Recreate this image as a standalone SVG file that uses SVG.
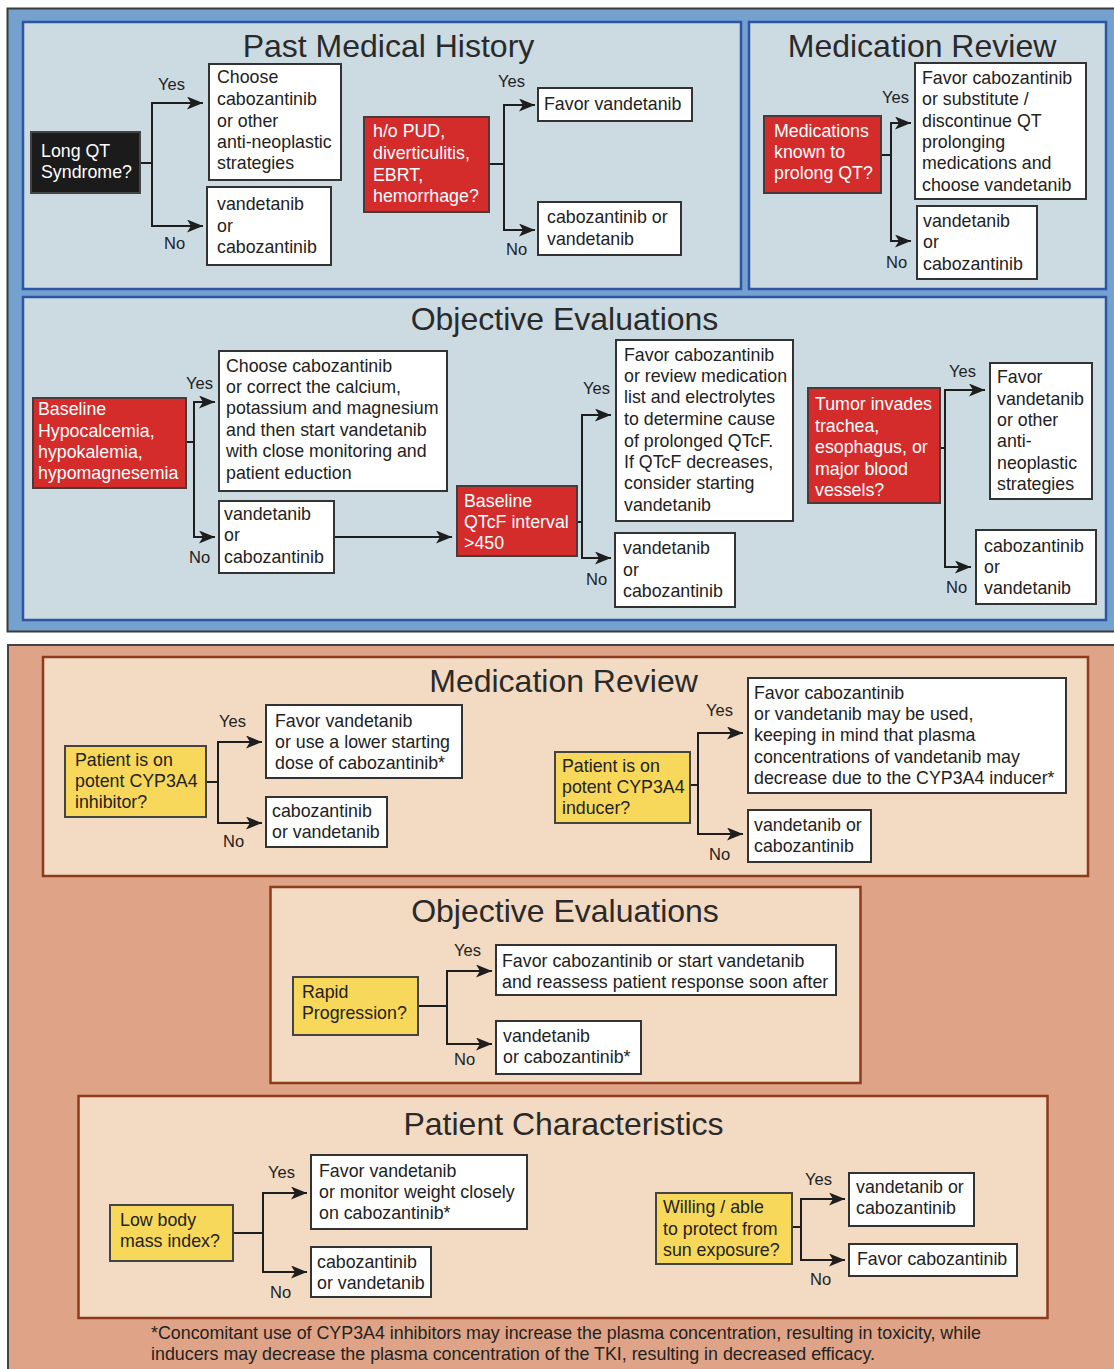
<svg xmlns="http://www.w3.org/2000/svg" width="1114" height="1369" viewBox="0 0 1114 1369">
<defs>
<marker id="arr" markerUnits="userSpaceOnUse" markerWidth="17" markerHeight="14" refX="16" refY="6.5" orient="auto">
<path d="M0,0 L16,6.5 L0,13 L4,6.5 Z" fill="#1e1e1e"/>
</marker>
</defs>
<style>
text{font-family:"Liberation Sans",Arial,Helvetica,sans-serif;fill:#222}
.t{font-size:17.8px}
.w{fill:#fff}
.lbl{font-size:16.5px}
.title{font-size:32px;text-anchor:middle;fill:#2a2a2a}
.box{fill:#fff;stroke:#333;stroke-width:2}
.red{fill:#d42b2b;stroke:#4a3a3a;stroke-width:2}
.blk{fill:#1b1b1b;stroke:#444;stroke-width:2}
.yel{fill:#f8d85a;stroke:#444;stroke-width:2}
.pb{fill:#ccdae2;stroke:#2c55a3;stroke-width:2.5}
.po{fill:#f2dac3;stroke:#8e3b1d;stroke-width:2.5}
.con path{fill:none;stroke:#1e1e1e;stroke-width:2;marker-end:url(#arr)}
.con path.plain{marker-end:none}
</style>
<rect x="0" y="0" width="1114" height="1369" fill="#fff"/>
<!-- outer panels -->
<rect id="outer-blue" x="7.5" y="8.5" width="1112" height="623" fill="#75a1cf" stroke="#3a3a3a" stroke-width="2"/>
<rect id="outer-orange" x="8" y="645" width="1112" height="730" fill="#dfa487" stroke="#444" stroke-width="2"/>

<!-- inner panels -->
<g id="panel-pmh"><rect class="pb" x="23" y="22" width="718" height="267"/><text class="title" x="388.5" y="57">Past Medical History</text></g>
<g id="panel-mr-top"><rect class="pb" x="749" y="22" width="357" height="267"/><text class="title" x="922" y="57">Medication Review</text></g>
<g id="panel-oe-top"><rect class="pb" x="23" y="297" width="1083" height="323"/><text class="title" x="564.5" y="330">Objective Evaluations</text></g>
<g id="panel-mr-bottom"><rect class="po" x="43" y="657" width="1045" height="219"/><text class="title" x="563.5" y="692">Medication Review</text></g>
<g id="panel-oe-bottom"><rect class="po" x="270.5" y="887" width="590" height="196"/><text class="title" x="565" y="922">Objective Evaluations</text></g>
<g id="panel-pc"><rect class="po" x="78.5" y="1096" width="969" height="222"/><text class="title" x="563.5" y="1135">Patient Characteristics</text></g>

<!-- connectors -->
<g id="connectors" class="con">
<path d="M140,163 H152 V103 H203"/>
<path d="M140,163 H152 V226 H203"/>
<path d="M489,164 H504 V105 H535"/>
<path d="M489,164 H504 V230 H535"/>
<path d="M881,155 H891 V123 H911"/>
<path d="M881,155 H891 V241 H911"/>
<path d="M186,442 H194 V402 H215"/>
<path d="M186,442 H194 V537 H215"/>
<path d="M334,537 H452"/>
<path d="M577,522 H582 V415 H611"/>
<path d="M577,522 H582 V558 H611"/>
<path d="M940,448 H945 V390 H985"/>
<path d="M940,448 H945 V567 H971"/>
<path d="M206,782 H218 V742 H262"/>
<path d="M206,782 H218 V823 H262"/>
<path d="M690,785 H698 V733 H743"/>
<path d="M690,785 H698 V834 H743"/>
<path d="M418,1006 H447 V971 H492"/>
<path d="M418,1006 H447 V1044 H492"/>
<path d="M233,1233 H263 V1193 H307"/>
<path d="M233,1233 H263 V1272 H307"/>
<path d="M792,1227 H801 V1199 H845"/>
<path d="M792,1227 H801 V1260 H845"/>
</g>

<!-- Yes/No labels -->
<g id="labels" class="lbl">
<text class="lbl" x="158" y="90">Yes</text><text class="lbl" x="164" y="249">No</text>
<text class="lbl" x="498" y="87">Yes</text><text class="lbl" x="506" y="255">No</text>
<text class="lbl" x="882" y="103">Yes</text><text class="lbl" x="886" y="268">No</text>
<text class="lbl" x="186" y="389">Yes</text><text class="lbl" x="189" y="563">No</text>
<text class="lbl" x="583" y="394">Yes</text><text class="lbl" x="586" y="585">No</text>
<text class="lbl" x="949" y="377">Yes</text><text class="lbl" x="946" y="593">No</text>
<text class="lbl" x="219" y="727">Yes</text><text class="lbl" x="223" y="847">No</text>
<text class="lbl" x="706" y="716">Yes</text><text class="lbl" x="709" y="860">No</text>
<text class="lbl" x="454" y="956">Yes</text><text class="lbl" x="454" y="1065">No</text>
<text class="lbl" x="268" y="1178">Yes</text><text class="lbl" x="270" y="1298">No</text>
<text class="lbl" x="805" y="1185">Yes</text><text class="lbl" x="810" y="1285">No</text>
</g>

<!-- Past Medical History nodes -->
<g id="n-longqt"><rect class="blk" x="31" y="132" width="109" height="61"/>
<text class="t w" x="41" y="157">Long QT</text><text class="t w" x="41" y="178">Syndrome?</text></g>
<g id="n-choose-cabo"><rect class="box" x="209" y="64" width="132" height="116"/>
<text class="t" x="217" y="83">Choose</text><text class="t" x="217" y="105">cabozantinib</text><text class="t" x="217" y="127">or other</text><text class="t" x="217" y="148">anti-neoplastic</text><text class="t" x="217" y="169">strategies</text></g>
<g id="n-vand-cabo-1"><rect class="box" x="207" y="187" width="124" height="78"/>
<text class="t" x="217" y="210">vandetanib</text><text class="t" x="217" y="232">or</text><text class="t" x="217" y="253">cabozantinib</text></g>
<g id="n-pud"><rect class="red" x="364" y="117" width="125" height="95"/>
<text class="t w" x="373" y="137">h/o PUD,</text><text class="t w" x="373" y="159">diverticulitis,</text><text class="t w" x="373" y="181">EBRT,</text><text class="t w" x="373" y="202">hemorrhage?</text></g>
<g id="n-favor-vand-1"><rect class="box" x="538" y="88" width="154" height="33"/>
<text class="t" x="544" y="110">Favor vandetanib</text></g>
<g id="n-cabo-vand-1"><rect class="box" x="538" y="202" width="143" height="53"/>
<text class="t" x="547" y="223">cabozantinib or</text><text class="t" x="547" y="245">vandetanib</text></g>

<!-- Medication Review (top) -->
<g id="n-medqt"><rect class="red" x="764" y="116" width="117" height="77"/>
<text class="t w" x="774" y="137">Medications</text><text class="t w" x="774" y="158">known to</text><text class="t w" x="774" y="179">prolong QT?</text></g>
<g id="n-favor-cabo-subst"><rect class="box" x="915" y="63" width="171" height="136"/>
<text class="t" x="922" y="84">Favor cabozantinib</text><text class="t" x="922" y="105">or substitute /</text><text class="t" x="922" y="127">discontinue QT</text><text class="t" x="922" y="148">prolonging</text><text class="t" x="922" y="169">medications and</text><text class="t" x="922" y="191">choose vandetanib</text></g>
<g id="n-vand-cabo-2"><rect class="box" x="917" y="206" width="120" height="73"/>
<text class="t" x="923" y="227">vandetanib</text><text class="t" x="923" y="248">or</text><text class="t" x="923" y="270">cabozantinib</text></g>

<!-- Objective Evaluations (top) -->
<g id="n-hypo"><rect class="red" x="33" y="398" width="153" height="90"/>
<text class="t w" x="38" y="415">Baseline</text><text class="t w" x="38" y="437">Hypocalcemia,</text><text class="t w" x="38" y="458">hypokalemia,</text><text class="t w" x="38" y="479">hypomagnesemia</text></g>
<g id="n-choose-correct"><rect class="box" x="219" y="351" width="228" height="140"/>
<text class="t" x="226" y="372">Choose cabozantinib</text><text class="t" x="226" y="393">or correct the calcium,</text><text class="t" x="226" y="414">potassium and magnesium</text><text class="t" x="226" y="436">and then start vandetanib</text><text class="t" x="226" y="457">with close monitoring and</text><text class="t" x="226" y="479">patient eduction</text></g>
<g id="n-vand-cabo-3"><rect class="box" x="219" y="501" width="115" height="72"/>
<text class="t" x="224" y="520">vandetanib</text><text class="t" x="224" y="541">or</text><text class="t" x="224" y="563">cabozantinib</text></g>
<g id="n-qtcf"><rect class="red" x="457" y="486" width="120" height="70"/>
<text class="t w" x="464" y="507">Baseline</text><text class="t w" x="464" y="528">QTcF interval</text><text class="t w" x="464" y="549">&gt;450</text></g>
<g id="n-favor-cabo-review"><rect class="box" x="616" y="340" width="177" height="181"/>
<text class="t" x="624" y="361">Favor cabozantinib</text><text class="t" x="624" y="382">or review medication</text><text class="t" x="624" y="403">list and electrolytes</text><text class="t" x="624" y="425">to determine cause</text><text class="t" x="624" y="447">of prolonged QTcF.</text><text class="t" x="624" y="468">If QTcF decreases,</text><text class="t" x="624" y="489">consider starting</text><text class="t" x="624" y="511">vandetanib</text></g>
<g id="n-vand-cabo-4"><rect class="box" x="615" y="533" width="120" height="74"/>
<text class="t" x="623" y="554">vandetanib</text><text class="t" x="623" y="576">or</text><text class="t" x="623" y="597">cabozantinib</text></g>
<g id="n-tumor"><rect class="red" x="808" y="388" width="132" height="115"/>
<text class="t w" x="815" y="410">Tumor invades</text><text class="t w" x="815" y="432">trachea,</text><text class="t w" x="815" y="453">esophagus, or</text><text class="t w" x="815" y="475">major blood</text><text class="t w" x="815" y="496">vessels?</text></g>
<g id="n-favor-vand-other"><rect class="box" x="990" y="363" width="102" height="136"/>
<text class="t" x="997" y="383">Favor</text><text class="t" x="997" y="405">vandetanib</text><text class="t" x="997" y="426">or other</text><text class="t" x="997" y="447">anti-</text><text class="t" x="997" y="469">neoplastic</text><text class="t" x="997" y="490">strategies</text></g>
<g id="n-cabo-vand-2"><rect class="box" x="976" y="530" width="120" height="74"/>
<text class="t" x="984" y="552">cabozantinib</text><text class="t" x="984" y="573">or</text><text class="t" x="984" y="594">vandetanib</text></g>

<!-- Medication Review (bottom) -->
<g id="n-inhib"><rect class="yel" x="65" y="746" width="141" height="71"/>
<text class="t" x="75" y="766">Patient is on</text><text class="t" x="75" y="787">potent CYP3A4</text><text class="t" x="75" y="808">inhibitor?</text></g>
<g id="n-favor-vand-lower"><rect class="box" x="266" y="705" width="196" height="73"/>
<text class="t" x="275" y="727">Favor vandetanib</text><text class="t" x="275" y="748">or use a lower starting</text><text class="t" x="275" y="769">dose of cabozantinib*</text></g>
<g id="n-cabo-vand-3"><rect class="box" x="266" y="797" width="121" height="50"/>
<text class="t" x="272" y="817">cabozantinib</text><text class="t" x="272" y="838">or vandetanib</text></g>
<g id="n-induc"><rect class="yel" x="555" y="752" width="135" height="71"/>
<text class="t" x="562" y="772">Patient is on</text><text class="t" x="562" y="793">potent CYP3A4</text><text class="t" x="562" y="814">inducer?</text></g>
<g id="n-favor-cabo-plasma"><rect class="box" x="748" y="678" width="318" height="115"/>
<text class="t" x="754" y="699">Favor cabozantinib</text><text class="t" x="754" y="720">or vandetanib may be used,</text><text class="t" x="754" y="741">keeping in mind that plasma</text><text class="t" x="754" y="763">concentrations of vandetanib may</text><text class="t" x="754" y="784">decrease due to the CYP3A4 inducer*</text></g>
<g id="n-vand-cabo-5"><rect class="box" x="748" y="810" width="123" height="52"/>
<text class="t" x="754" y="831">vandetanib or</text><text class="t" x="754" y="852">cabozantinib</text></g>

<!-- Objective Evaluations (bottom) -->
<g id="n-rapid"><rect class="yel" x="293" y="977" width="125" height="58"/>
<text class="t" x="302" y="998">Rapid</text><text class="t" x="302" y="1019">Progression?</text></g>
<g id="n-favor-cabo-reassess"><rect class="box" x="496" y="945" width="340" height="50"/>
<text class="t" x="502" y="967">Favor cabozantinib or start vandetanib</text><text class="t" x="502" y="988">and reassess patient response soon after</text></g>
<g id="n-vand-cabo-6"><rect class="box" x="496" y="1021" width="145" height="53"/>
<text class="t" x="503" y="1042">vandetanib</text><text class="t" x="503" y="1063">or cabozantinib*</text></g>

<!-- Patient Characteristics -->
<g id="n-bmi"><rect class="yel" x="110" y="1205" width="123" height="56"/>
<text class="t" x="120" y="1226">Low body</text><text class="t" x="120" y="1247">mass index?</text></g>
<g id="n-favor-vand-weight"><rect class="box" x="311" y="1155" width="216" height="74"/>
<text class="t" x="319" y="1177">Favor vandetanib</text><text class="t" x="319" y="1198">or monitor weight closely</text><text class="t" x="319" y="1219">on cabozantinib*</text></g>
<g id="n-cabo-vand-4"><rect class="box" x="311" y="1247" width="120" height="50"/>
<text class="t" x="317" y="1268">cabozantinib</text><text class="t" x="317" y="1289">or vandetanib</text></g>
<g id="n-sun"><rect class="yel" x="656" y="1193" width="136" height="71"/>
<text class="t" x="663" y="1213">Willing / able</text><text class="t" x="663" y="1235">to protect from</text><text class="t" x="663" y="1256">sun exposure?</text></g>
<g id="n-vand-cabo-7"><rect class="box" x="849" y="1173" width="125" height="53"/>
<text class="t" x="856" y="1193">vandetanib or</text><text class="t" x="856" y="1214">cabozantinib</text></g>
<g id="n-favor-cabo-sun"><rect class="box" x="849" y="1244" width="168" height="32"/>
<text class="t" x="857" y="1265">Favor cabozantinib</text></g>

<!-- footnote -->
<g id="footnote">
<text class="t" x="151" y="1339" textLength="830" lengthAdjust="spacingAndGlyphs">*Concomitant use of CYP3A4 inhibitors may increase the plasma concentration, resulting in toxicity, while</text>
<text class="t" x="151" y="1360" textLength="724" lengthAdjust="spacingAndGlyphs">inducers may decrease the plasma concentration of the TKI, resulting in decreased efficacy.</text>
</g>
</svg>
